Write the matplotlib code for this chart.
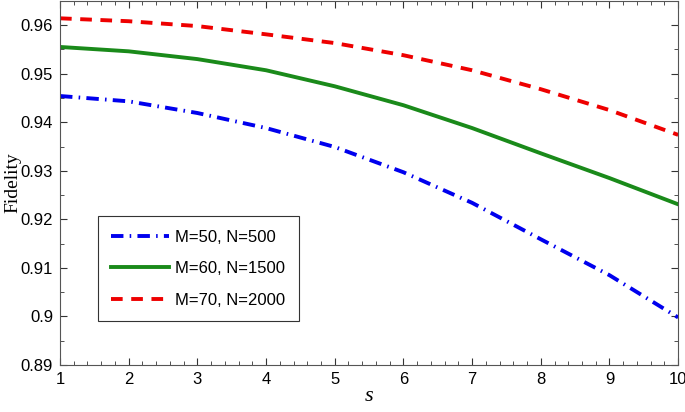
import numpy as np
import matplotlib.pyplot as plt
from matplotlib.ticker import MultipleLocator

# values
s = [1, 2, 3, 4, 5, 6, 7, 8, 9, 10]
fid_50_500 = [0.9454, 0.9443, 0.9419, 0.9388, 0.9349, 0.9297, 0.9234, 0.9159, 0.9085, 0.8998]
fid_60_1500 = [0.9555, 0.9546, 0.9530, 0.9507, 0.9474, 0.9435, 0.9388, 0.9336, 0.9285, 0.9231]
fid_70_2000 = [0.9614, 0.9608, 0.9598, 0.9581, 0.9563, 0.9538, 0.9507, 0.9468, 0.9425, 0.9374]
labels = ['M=50, N=500', 'M=60, N=1500', 'M=70, N=2000']

plt.rcParams['font.family'] = ['Liberation Sans', 'DejaVu Sans']

fig = plt.figure(figsize=(6.85, 4.12), dpi=100)
ax = fig.add_axes([0.0876, 0.114, 0.9024, 0.884])

ax.plot(s, fid_50_500, color='#0000ee', lw=2.8, dashes=(3.2, 1.6, 0.4, 1.6), label=labels[0])
ax.plot(s, fid_60_1500, color='#1a8a1a', lw=2.8, label=labels[1])
ax.plot(s, fid_70_2000, color='#ee0000', lw=2.8, dashes=(3.0, 2.2), label=labels[2])

ax.set_xlim(1, 10)
ax.set_ylim(0.89, 0.965)
ax.xaxis.set_major_locator(MultipleLocator(1))
ax.xaxis.set_minor_locator(MultipleLocator(0.2))
ax.yaxis.set_minor_locator(MultipleLocator(0.005))
ax.set_yticks(np.arange(0.89, 0.961, 0.01))
ax.set_yticklabels(['0.89', '0.9', '0.91', '0.92', '0.93', '0.94', '0.95', '0.96'])

ax.tick_params(which='both', direction='in', top=True, right=True, labelsize=12, colors='#333333', labelcolor='black')
ax.tick_params(which='major', length=5, pad=5)
ax.tick_params(which='minor', length=3)
for sp in ax.spines.values():
    sp.set_color('#555555')

ax.set_xlabel('s', family='Liberation Serif', style='italic', fontsize=16, labelpad=0)
ax.set_ylabel('Fidelity', family='Liberation Serif', fontsize=14)
ax.yaxis.set_label_coords(-0.062, 0.5)

leg = ax.legend(loc='lower left', bbox_to_anchor=(0.061, 0.12), fontsize=12, labelspacing=1.0,
                handlelength=3.5, handletextpad=0.35, borderpad=0.8, borderaxespad=0,
                fancybox=False, framealpha=1)
leg.get_frame().set_edgecolor('#333333')
leg.get_frame().set_linewidth(0.8)

fig.savefig('out.png', dpi=100)
